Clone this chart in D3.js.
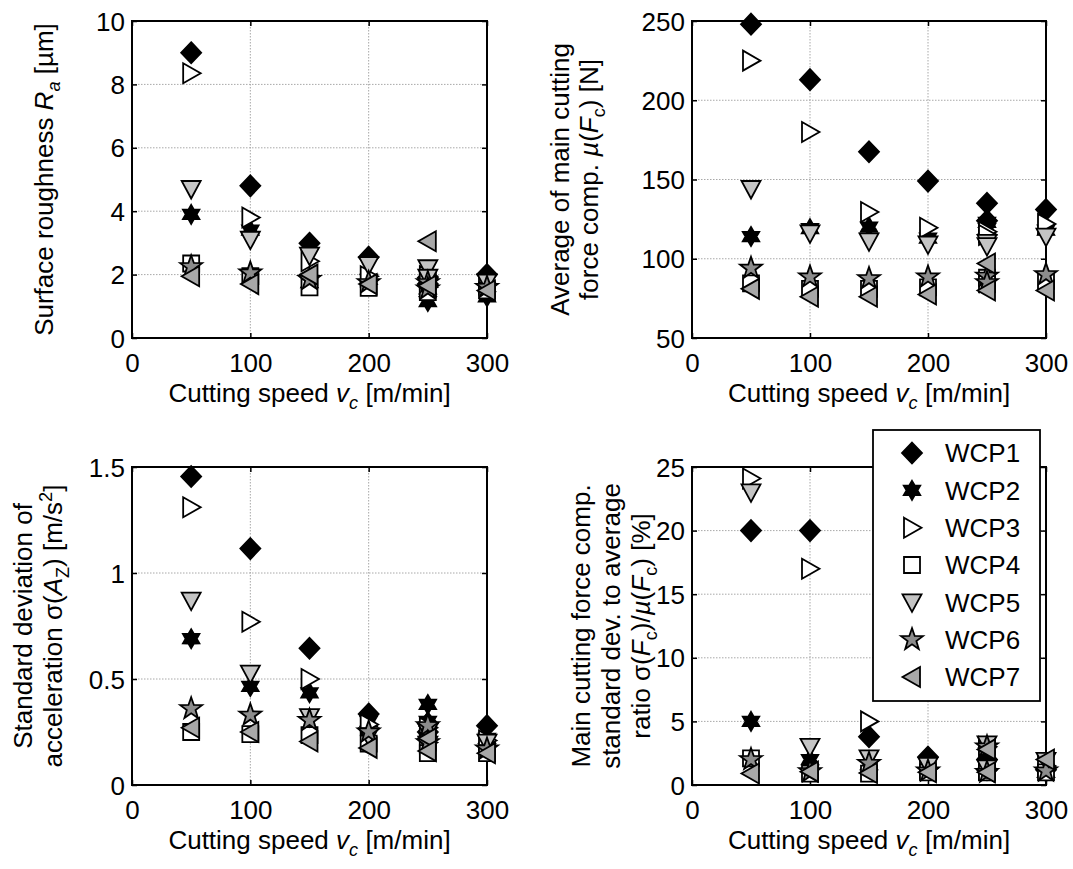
<!DOCTYPE html>
<html>
<head>
<meta charset="utf-8">
<script src="https://cdn.jsdelivr.net/npm/d3@7"></script>
<style>
  body { margin: 0; background: #fff; }
  svg { display: block; }
  text { font-family: "Liberation Sans", Arial, sans-serif; fill: #000; }
</style>
</head>
<body>
<svg id="chart" width="1073" height="869"></svg>
<script>
// Cutting speeds (250 m/min was run twice)
const speeds = [50, 100, 150, 200, 250, 250, 300];
const seriesNames = ["WCP1", "WCP2", "WCP3", "WCP4", "WCP5", "WCP6", "WCP7"];
const xTicks = [0, 100, 200, 300];

// Surface roughness Ra [µm], one row per workpiece
const roughness = [
  [9.0, 4.8, 2.99, 2.55, 1.9, 1.7, 2.0],
  [3.9, 3.4, 1.75, 1.85, 1.55, 1.15, 1.3],
  [8.35, 3.8, 2.42, 1.95, 1.95, 1.6, 1.7],
  [2.35, 1.95, 1.6, 1.58, 1.8, 1.45, 1.5],
  [4.7, 3.1, 2.6, 2.3, 2.2, 1.9, 1.75],
  [2.25, 2.05, 1.85, 1.75, 1.75, 1.55, 1.6],
  [1.95, 1.7, 2.0, 1.7, 3.05, 1.65, 1.5]
];
const roughnessTicks = [0, 2, 4, 6, 8, 10];

// Mean main cutting force component [N]
const forceMean = [
  [248, 213, 167.5, 149, 135, 124, 131],
  [114, 119, 120, 113, 123, 119, 118],
  [225, 180, 129.5, 119.5, 117, 115, 122],
  [84.5, 81, 81, 82, 88, 84, 86],
  [144, 116, 111, 109, 110, 108, 114],
  [94, 88.5, 87.5, 88.5, 89, 85, 90],
  [81, 76, 76, 77.5, 97, 80, 80]
];
const forceMeanTicks = [50, 100, 150, 200, 250];

// Standard deviation of acceleration [m/s²]
const accelStd = [
  [1.455, 1.115, 0.645, 0.335, 0.29, 0.25, 0.28],
  [0.69, 0.465, 0.435, 0.3, 0.38, 0.3, 0.22],
  [1.31, 0.77, 0.5, 0.285, 0.27, 0.2, 0.21],
  [0.25, 0.24, 0.235, 0.195, 0.2, 0.15, 0.15],
  [0.87, 0.525, 0.32, 0.23, 0.25, 0.19, 0.2],
  [0.36, 0.33, 0.305, 0.25, 0.28, 0.2, 0.17],
  [0.27, 0.25, 0.205, 0.175, 0.22, 0.16, 0.15]
];
const accelTicks = [0, 0.5, 1, 1.5];

// Std. dev. to mean ratio of main cutting force [%]
const forceRatio = [
  [20, 20, 3.8, 2.2, 2.0, 1.2, 1.2],
  [5.0, 2.0, 1.6, 1.7, 2.5, 1.5, 1.0],
  [24.1, 17.0, 5.0, 1.3, 3.0, 1.2, 1.5],
  [2.1, 0.9, 0.9, 1.0, 3.0, 1.0, 1.0],
  [23.0, 3.0, 2.1, 1.5, 3.2, 1.3, 1.9],
  [2.0, 1.05, 1.7, 1.1, 3.0, 1.0, 1.1],
  [0.9, 1.05, 0.95, 1.0, 2.8, 1.0, 2.0]
];
const ratioTicks = [0, 5, 10, 15, 20, 25];

// ---------- marker shapes ----------
function starPath(n, rOut, rIn) {
  const pts = [];
  for (let k = 0; k < 2 * n; k++) {
    const r = k % 2 === 0 ? rOut : rIn;
    const a = -Math.PI / 2 + k * Math.PI / n;
    pts.push([r * Math.cos(a), r * Math.sin(a)]);
  }
  return "M" + pts.map(p => p[0].toFixed(2) + "," + p[1].toFixed(2)).join("L") + "Z";
}
const shapes = {
  diamond: "M0,-10.5L10,0L0,10.5L-10,0Z",
  hexagram: starPath(6, 9.5, 5.5),
  triRight: "M-8,-10L9.5,0L-8,10Z",
  square: "M-8,-8H8V8H-8Z",
  triDown: "M-9.5,-8H9.5L0,9.5Z",
  pentagram: starPath(5, 11.5, 4.6),
  triLeft: "M8,-10L-9.5,0L8,10Z"
};
const markerStyle = [
  { shape: "diamond", fill: "#000000" },
  { shape: "hexagram", fill: "#000000" },
  { shape: "triRight", fill: "#ffffff" },
  { shape: "square", fill: "#ffffff" },
  { shape: "triDown", fill: "#c4c4c4" },
  { shape: "pentagram", fill: "#8c8c8c" },
  { shape: "triLeft", fill: "#a8a8a8" }
];

const FS = 26;
const svg = d3.select("#chart");
svg.append("rect").attr("width", 1073).attr("height", 869).attr("fill", "#fff");

// rich text: parts with italics / sub / superscripts
function richText(sel, parts) {
  let shift = 0;
  parts.forEach(p => {
    const ts = sel.append("tspan").text(p.t);
    let target = 0;
    if (p.sub) target = 7;
    if (p.sup) target = -10;
    if (target !== shift) { ts.attr("dy", target - shift); shift = target; }
    if (p.sub || p.sup) ts.attr("font-size", FS * 0.7);
    if (p.i) ts.attr("font-style", "italic");
  });
}

const xLabel = [
  { t: "Cutting speed " }, { t: "v", i: 1 }, { t: "c", i: 1, sub: 1 }, { t: " [m/min]" }
];

const panels = [
  {
    data: roughness, ticks: roughnessTicks, domain: [0, 10],
    box: { x0: 132, x1: 487, y0: 21, y1: 338 },
    ylabel: [
      [{ t: "Surface roughness " }, { t: "R", i: 1 }, { t: "a", i: 1, sub: 1 }, { t: " [µm]" }]
    ],
    yBase: [53]
  },
  {
    data: forceMean, ticks: forceMeanTicks, domain: [50, 250],
    box: { x0: 692, x1: 1046, y0: 21, y1: 338 },
    ylabel: [
      [{ t: "Average of main cutting" }],
      [{ t: "force comp. " }, { t: "µ", i: 1 }, { t: "(" }, { t: "F", i: 1 }, { t: "c", sub: 1 }, { t: ") [N]" }]
    ],
    yBase: [569, 598]
  },
  {
    data: accelStd, ticks: accelTicks, domain: [0, 1.5],
    box: { x0: 132, x1: 487, y0: 467, y1: 785 },
    ylabel: [
      [{ t: "Standard deviation of" }],
      [{ t: "acceleration σ(" }, { t: "A", i: 1 }, { t: "Z", sub: 1 }, { t: ") [m/s" }, { t: "2", sup: 1 }, { t: "]" }]
    ],
    yBase: [32, 62]
  },
  {
    data: forceRatio, ticks: ratioTicks, domain: [0, 25],
    box: { x0: 692, x1: 1046, y0: 467, y1: 785 },
    ylabel: [
      [{ t: "Main cutting force comp." }],
      [{ t: "standard dev. to average" }],
      [{ t: "ratio σ(" }, { t: "F", i: 1 }, { t: "c", sub: 1 }, { t: ")/" }, { t: "µ", i: 1 }, { t: "(" }, { t: "F", i: 1 }, { t: "c", sub: 1 }, { t: ") [%]" }]
    ],
    yBase: [590, 620, 650]
  }
];

panels.forEach(p => {
  const b = p.box;
  const x = d3.scaleLinear().domain([0, 300]).range([b.x0, b.x1]);
  const y = d3.scaleLinear().domain(p.domain).range([b.y1, b.y0]);
  const g = svg.append("g");

  // dotted grid at interior ticks
  const grid = g.append("g").attr("stroke", "#a8a8a8").attr("stroke-width", 1).attr("stroke-dasharray", "1.5,1.5");
  grid.selectAll("line.gx").data(xTicks.slice(1, -1)).join("line")
    .attr("x1", d => x(d)).attr("x2", d => x(d)).attr("y1", b.y0).attr("y2", b.y1);
  grid.selectAll("line.gy").data(p.ticks.slice(1, -1)).join("line")
    .attr("y1", d => y(d)).attr("y2", d => y(d)).attr("x1", b.x0).attr("x2", b.x1);

  // axes with inward ticks
  const fmt = d => String(d);
  const ax = g.append("g").attr("transform", `translate(0,${b.y1})`)
    .call(d3.axisBottom(x).tickValues(xTicks).tickFormat(fmt).tickSizeInner(-5).tickSizeOuter(0).tickPadding(0));
  ax.selectAll("text").attr("y", 34).attr("dy", null).attr("font-size", FS).attr("font-family", null);
  const axT = g.append("g").attr("transform", `translate(0,${b.y0})`)
    .call(d3.axisTop(x).tickValues(xTicks).tickFormat("").tickSizeInner(-5).tickSizeOuter(0));
  const ay = g.append("g").attr("transform", `translate(${b.x0},0)`)
    .call(d3.axisLeft(y).tickValues(p.ticks).tickFormat(fmt).tickSizeInner(-5).tickSizeOuter(0).tickPadding(7));
  ay.selectAll("text").attr("dy", "0.35em").attr("font-size", FS).attr("font-family", null);
  const ayR = g.append("g").attr("transform", `translate(${b.x1},0)`)
    .call(d3.axisRight(y).tickValues(p.ticks).tickFormat("").tickSizeInner(-5).tickSizeOuter(0));
  [ax, axT, ay, ayR].forEach(a => {
    a.select(".domain").remove();
    a.selectAll("line").attr("stroke", "#000").attr("stroke-width", 1.5);
  });

  // frame
  g.append("rect").attr("x", b.x0).attr("y", b.y0)
    .attr("width", b.x1 - b.x0).attr("height", b.y1 - b.y0)
    .attr("fill", "none").attr("stroke", "#000").attr("stroke-width", 2);

  // markers, series drawn in order so later ones sit on top
  p.data.forEach((vals, si) => {
    const st = markerStyle[si];
    g.append("g").selectAll("path").data(vals.map((v, k) => [speeds[k], v])).join("path")
      .attr("transform", d => `translate(${x(d[0])},${y(d[1])})`)
      .attr("d", shapes[st.shape])
      .attr("fill", st.fill).attr("stroke", "#000").attr("stroke-width", 1.8)
      .attr("stroke-linejoin", "miter");
  });

  // x label
  const xl = g.append("text").attr("x", (b.x0 + b.x1) / 2).attr("y", b.y1 + 64)
    .attr("text-anchor", "middle").attr("font-size", FS);
  richText(xl, xLabel);

  // y label lines
  const cy = (b.y0 + b.y1) / 2;
  p.ylabel.forEach((line, li) => {
    const t = g.append("text").attr("transform", `translate(${p.yBase[li]},${cy}) rotate(-90)`)
      .attr("text-anchor", "middle").attr("font-size", FS);
    richText(t, line);
  });
});

// legend
const leg = { x0: 873, x1: 1040, y0: 430, y1: 701 };
const lg = svg.append("g");
lg.append("rect").attr("x", leg.x0).attr("y", leg.y0)
  .attr("width", leg.x1 - leg.x0).attr("height", leg.y1 - leg.y0)
  .attr("fill", "#fff").attr("stroke", "#000").attr("stroke-width", 1.8);
const rowY = d3.scalePoint().domain(seriesNames).range([453, 677]);
seriesNames.forEach((name, i) => {
  const st = markerStyle[i];
  lg.append("path").attr("transform", `translate(912,${rowY(name)})`)
    .attr("d", shapes[st.shape]).attr("fill", st.fill)
    .attr("stroke", "#000").attr("stroke-width", 1.8);
  lg.append("text").attr("x", 945).attr("y", rowY(name)).attr("dy", "0.36em")
    .attr("font-size", FS).text(name);
});
</script>
</body>
</html>
